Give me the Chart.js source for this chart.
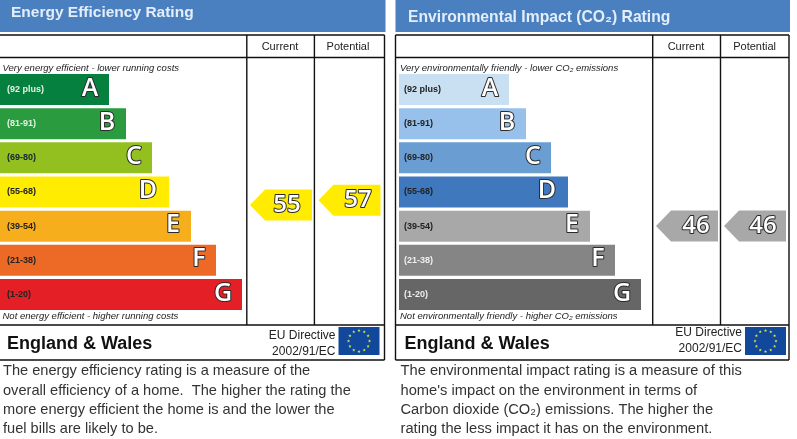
<!DOCTYPE html>
<html>
<head>
<meta charset="utf-8">
<style>
html,body{margin:0;padding:0;background:#fff;overflow:hidden}
canvas{position:absolute;top:0}
</style>
<script src="https://cdn.jsdelivr.net/npm/chart.js@4"></script>
</head>
<body>
<canvas id="energy" style="left:0"></canvas>
<canvas id="co2" style="left:392px"></canvas>
<script>
const categories = ['(92 plus)','(81-91)','(69-80)','(55-68)','(39-54)','(21-38)','(1-20)'];
const letters = ['A','B','C','D','E','F','G'];
const energyBars = [109,126,152,169,191,216,242];
const co2Bars = [110,127,152,169,191,216,242];
const energyColors = ['#06803f','#2a9c3f','#93c01f','#ffec00','#f7ae1c','#ec6a25','#e41f26'];
const co2Colors = ['#c9dff2','#97c0ea','#6a9ed3','#3f78bd','#a8a8a8','#858585','#666666'];
const energyTickColors = ['#e4f4e4','#e4f4e4','#123','#222','#222','#222','#222'];
const co2TickColors = ['#222','#222','#222','#222','#222','#eee','#eee'];
const columns = ['Current','Potential'];
const energyRatings = [55,57];
const co2Ratings = [46,46];
const energyArrowColor = '#ffec00';
const co2ArrowColor = '#a8a8a8';
const letterInset = [19,19,18,21,18,17,19];

const energyText = {
  title:'Energy Efficiency Rating', titleY:13,
  top:'Very energy efficient - lower running costs',
  bottom:'Not energy efficient - higher running costs',
  eu:335.5, dir:352,
  desc:['The energy efficiency rating is a measure of the','overall efficiency of a home.  The higher the rating the','more energy efficient the home is and the lower the','fuel bills are likely to be.']
};
const co2Text = {
  title:'Environmental Impact (CO\u2082) Rating', titleY:17.5,
  top:'Very environmentally friendly - lower CO\u2082 emissions',
  bottom:'Not environmentally friendly - higher CO\u2082 emissions',
  eu:333, dir:349,
  desc:['The environmental impact rating is a measure of this','home\'s impact on the environment in terms of','Carbon dioxide (CO\u2082) emissions. The higher the','rating the less impact it has on the environment.']
};

const H = 439;
const FONT = '"Liberation Sans", Arial, sans-serif';

function drawText(c, s, x, y, font, color, align){
  c.font = font; c.fillStyle = color; c.textAlign = align || 'left'; c.textBaseline = 'middle';
  c.fillText(s, x, y);
}
function outlined(c, s, x, y, font){
  c.font = font; c.textAlign = 'center'; c.textBaseline = 'middle'; c.lineJoin = 'round';
  c.lineWidth = 2; c.strokeStyle = '#2a2a2a'; c.strokeText(s, x, y);
  c.fillStyle = '#fff'; c.fillText(s, x, y);
}
function flag(c, x, y, w, h){
  c.fillStyle = '#12489c'; c.fillRect(x, y, w, h);
  const cx = x + w/2, cy = y + h/2, R = 10.5;
  c.fillStyle = '#d8e84a';
  for (let i = 0; i < 12; i++){
    const a = i * Math.PI / 6, sx = cx + R*Math.cos(a), sy = cy + R*Math.sin(a);
    c.beginPath();
    for (let k = 0; k < 10; k++){
      const r = k % 2 ? 0.7 : 1.7, t = -Math.PI/2 + k*Math.PI/5;
      c.lineTo(sx + r*Math.cos(t), sy + r*Math.sin(t));
    }
    c.closePath(); c.fill();
  }
}

function makePanel(id, o){
  const cv = document.getElementById(id);
  const width = o.canvasWidth;
  const frame = {
    id:'frame',
    beforeDatasetsDraw(chart){
      const c = chart.ctx; c.save(); c.translate(-o.offset, 0);
      c.fillStyle = '#4a7fc0'; c.fillRect(o.left, 0, o.right - o.left + 1, 32);
      c.strokeStyle = '#111'; c.lineWidth = 1.4;
      c.beginPath();
      [35,57.5,325,360].forEach(y => { c.moveTo(o.left, y); c.lineTo(o.right, y); });
      [o.col1,o.col2].forEach(x => { c.moveTo(x,35); c.lineTo(x,325); });
      [o.right].concat(o.frameLeft ? [o.left] : []).forEach(x => { c.moveTo(x,35); c.lineTo(x,360); });
      c.stroke();
      c.restore();
    },
    afterDraw(chart){
      const c = chart.ctx, t = o.text; c.save();
      const bars = chart.getDatasetMeta(0).data;
      bars.forEach((b,i) => outlined(c, letters[i], b.x - letterInset[i], b.y - 1, '600 25px "Open Sans"'));
      const pts = chart.getDatasetMeta(1).data;
      pts.forEach((p,i) => {
        c.fillStyle = o.arrow;
        c.beginPath();
        c.moveTo(p.x - 31, p.y); c.lineTo(p.x - 16, p.y - 15.5); c.lineTo(p.x + 31, p.y - 15.5);
        c.lineTo(p.x + 31, p.y + 15.5); c.lineTo(p.x - 16, p.y + 15.5); c.closePath(); c.fill();
        outlined(c, String(o.ratings[i]), p.x + o.numShift[i], p.y, '600 24px "Open Sans"');
      });
      c.translate(-o.offset, 0);
      drawText(c, t.title, o.titleX, t.titleY, 'bold '+o.titleSize+'px '+FONT, '#e4eefa');
      columns.forEach((n,i) => drawText(c, n, o.colCenters[i], 47, '11px '+FONT, '#222', 'center'));
      drawText(c, t.top, o.noteX, 68, 'italic 9.5px '+FONT, '#222');
      drawText(c, t.bottom, o.noteX, 316, 'italic 9.5px '+FONT, '#222');
      drawText(c, 'England & Wales', o.noteX + 4.5, 344, 'bold 18px '+FONT, '#111');
      drawText(c, 'EU Directive', o.euRight, t.eu, '12px '+FONT, '#222', 'right');
      drawText(c, '2002/91/EC', o.euRight, t.dir, '12px '+FONT, '#222', 'right');
      flag(c, o.euRight + 3, 327, 41, 28);
      t.desc.forEach((l,i) => drawText(c, l, o.noteX + 0.5, [371,391,410,429][i], o.descSize+'px '+FONT, '#333'));
      c.restore();
    }
  };
  new Chart(cv, {
    type:'bar',
    data:{
      labels:categories,
      datasets:[
        {type:'bar', indexAxis:'y', data:o.bars, backgroundColor:o.colors, xAxisID:'x', yAxisID:'y',
         barPercentage:0.907, categoryPercentage:1, borderWidth:0},
        {type:'scatter', indexAxis:'x', data:o.ratings.map((r,i)=>({x:o.arrowX[i], y:r})), xAxisID:'x', yAxisID:'rating',
         pointRadius:0, showLine:false}
      ]
    },
    options:{
      responsive:false, animation:false, devicePixelRatio:1,
      layout:{padding:{left:o.pad, right:0, top:72.4, bottom:127.4}},
      plugins:{legend:{display:false}, tooltip:{enabled:false}, title:{display:false}},
      scales:{
        x:{type:'linear', axis:'x', min:0, max:width - o.pad, display:false, offset:false},
        y:{type:'category', axis:'y', offset:true, position:'left',
           afterFit:s => { s.width = 0; },
           grid:{display:false, drawTicks:false}, border:{display:false},
           ticks:{mirror:true, padding:o.tickPad, z:1, autoSkip:false, maxRotation:0,
             font:{family:FONT, weight:'bold', size:9},
             color:ctx => o.tickColors[ctx.index]}},
        rating:{type:'linear', axis:'y', min:9.25, max:111.9, display:false, offset:false}
      }
    },
    plugins:[frame]
  });
}
document.getElementById('energy').width = 392; document.getElementById('energy').height = H;
document.getElementById('co2').width = 405; document.getElementById('co2').height = H;

makePanel('energy', {
  canvasWidth:392, offset:0, pad:0, tickPad:7, left:0, right:384.5, col1:246.8, col2:314.4, frameLeft:false,
  titleX:11, titleSize:15.5, descSize:14.6, noteX:2.5, colCenters:[280,348], euRight:335.5,
  bars:energyBars, colors:energyColors, tickColors:energyTickColors, ratings:energyRatings, arrow:energyArrowColor,
  arrowX:[281,349.5], numShift:[6,8.5], text:energyText
});
makePanel('co2', {
  canvasWidth:405, offset:392, pad:7, tickPad:5, left:395.5, right:789, col1:652.7, col2:720.5, frameLeft:true,
  titleX:408, titleSize:15.7, descSize:14.7, noteX:400, colCenters:[686,754.6], euRight:742,
  bars:co2Bars, colors:co2Colors, tickColors:co2TickColors, ratings:co2Ratings, arrow:co2ArrowColor,
  arrowX:[288,356], numShift:[9,8], text:co2Text
});
</script>
</body>
</html>
